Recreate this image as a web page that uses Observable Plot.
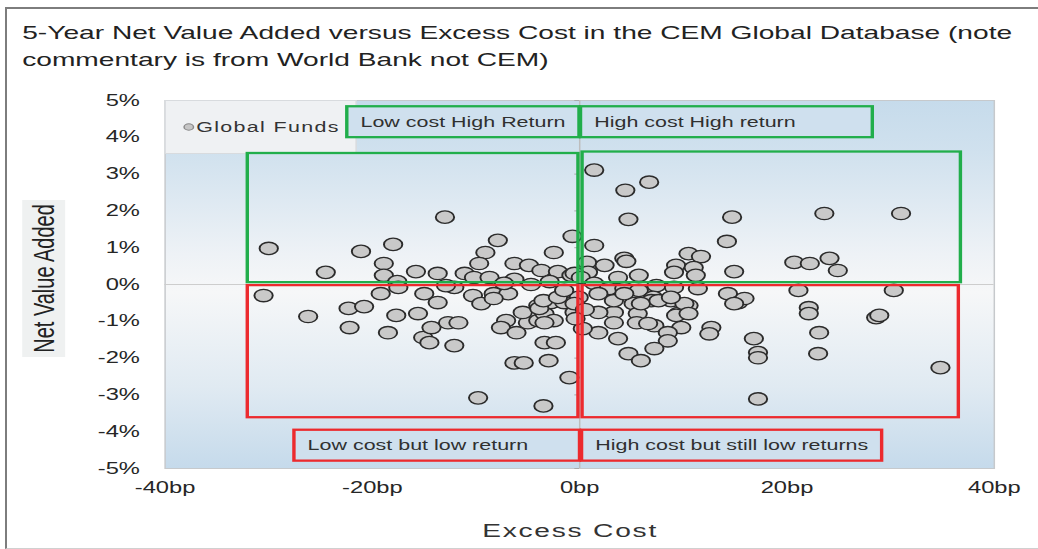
<!DOCTYPE html>
<html><head><meta charset="utf-8">
<script src="https://cdn.jsdelivr.net/npm/d3@7"></script>
<script src="https://cdn.jsdelivr.net/npm/@observablehq/plot@0.6"></script>
<style>
html,body{margin:0;padding:0;background:#fff;width:1038px;height:549px;overflow:hidden;position:relative;}
#border{position:absolute;left:5px;top:7px;width:1060px;height:539px;border-top:2px solid #7d7d7d;border-left:2px solid #7d7d7d;border-bottom:1px solid #d0d0d0;}
#title{position:absolute;left:0;top:0;width:701px;transform:scaleX(1.4807);transform-origin:0 0;font-family:"Liberation Sans",Arial,sans-serif;font-size:19px;line-height:27px;color:#222;padding:19px 0 0 15px;box-sizing:border-box;white-space:nowrap;}
#chart{position:absolute;left:0;top:85px;}
</style></head><body>
<div id="border"></div>
<div id="title">5-Year Net Value Added versus Excess Cost in the CEM Global Database (note<br>commentary is from World Bank not CEM)</div>
<div id="chart"></div>
<script>
// Global Funds: excess cost (bp) and 5-year net value added (%)
const excessCost = [
 -30.0,-24.5,-21.1,-18.0,-18.9,-18.9,-15.8,-17.6,-13.0,-7.9,-9.1,-9.7,-0.7,-2.5,-13.7,-11.1,-10.2,-8.7,-6.3,-4.9,
 -3.7,-2.1,-0.8,-6.3,-4.7,1.4,4.4,6.7,4.7,1.4,4.3,4.5,2.4,0.7,9.3,14.7,23.6,31.0,14.2,10.5,
 11.7,11.0,9.1,11.2,14.9,20.7,22.2,24.1,24.9,5.7,3.7,0.8,-0.5,0.1,1.4,7.4,9.1,11.4,2.8,4.3,
 5.7,7.1,8.8,10.5,14.3,15.3,15.9,3.3,5.2,5.6,6.9,9.5,3.3,5.5,7.2,9.8,12.7,14.9,21.1,30.3,
 10.1,9.3,10.5,22.1,22.1,28.6,28.9,8.5,8.5,12.5,16.8,17.2,17.2,23.1,23.0,34.8,17.2,1.8,3.3,4.3,
 5.9,7.6,8.8,1.8,1.8,3.7,6.6,7.2,4.7,5.9,0.3,-0.1,-18.5,-17.7,-15.6,-15.1,-14.5,-14.3,-13.7,-12.7,
 -11.7,-12.1,-15.0,-19.2,-10.3,-9.5,-8.3,-6.9,-7.1,-7.6,-6.1,-5.0,-5.5,-4.0,-3.4,-2.5,-4.0,-2.8,-1.5,-0.5,
 -3.4,-2.3,-6.3,-5.4,-3.0,-1.0,-9.8,-3.5,-30.5,-26.2,-22.3,-20.8,-22.2,-12.1,-8.3,-3.9,-3.5,-2.1,-1.5,-0.5,
 -3.4,-17.5,-12.9,-7.3,-2.9,0.5,-0.4
];
const netValueAdded = [
 0.98,0.33,0.90,1.09,0.57,0.25,0.35,0.08,1.83,1.20,0.87,0.57,1.31,0.87,0.30,0.30,0.19,0.19,0.57,0.52,
 0.38,0.35,0.25,0.14,0.00,3.11,2.56,2.78,1.77,1.06,0.71,0.63,0.52,0.60,0.52,1.83,1.93,1.93,1.17,0.84,
 0.76,0.46,0.33,0.25,0.35,0.60,0.57,0.71,0.38,0.25,0.19,0.33,0.30,0.19,0.03,-0.03,-0.08,-0.11,-0.11,-0.11,
 -0.16,-0.35,-0.44,-0.57,-0.25,-0.49,-0.38,-0.76,-0.52,-0.79,-0.44,-0.79,-1.04,-1.04,-1.12,-1.17,-1.17,-0.52,-0.16,-0.16,
 -0.52,-0.84,-0.79,-0.63,-0.79,-0.90,-0.84,-1.31,-1.53,-1.34,-1.47,-1.85,-1.99,-1.31,-1.88,-2.26,-3.11,-0.25,-0.44,-0.25,
 -0.52,-0.44,-0.35,-0.76,-1.31,-1.47,-1.06,-1.74,-1.88,-2.07,-1.20,-0.35,-1.31,-0.84,-0.79,-1.44,-1.58,-1.17,-0.49,-1.04,
 -1.04,-1.66,-0.25,-0.25,-0.30,-0.52,-0.25,-0.25,-0.98,-1.17,-1.31,-1.04,-0.76,-0.98,-0.79,-0.98,-0.57,-0.49,-0.49,-0.76,
 -1.58,-1.58,-2.13,-2.13,-2.07,-2.53,-3.08,-3.30,-0.30,-0.87,-0.65,-0.60,-1.17,-0.08,-0.38,-0.65,-0.44,-0.35,-0.16,-0.52,
 -1.04,-0.08,-0.03,0.03,0.08,-0.68,-0.93
];
const seriesName = "Global Funds";

// Axis ticks
const xTicks = [-40, -20, 0, 20, 40];
const yTicks = [5, 4, 3, 2, 1, 0, -1, -2, -3, -4, -5];

// Annotation (World Bank commentary) boxes, in data units
const quadrantLabels = ["Low cost High Return", "High cost High return", "Low cost but low return", "High cost but still low returns"];
const quadrantColor = ["#21ae4b", "#21ae4b", "#ec2a2e", "#ec2a2e"];
const quadX1 = [-32.0, 0.3, -32.0, 0.3];
const quadX2 = [-0.1, 36.8, -0.1, 36.6];
const quadY1 = [0.05, 0.05, -0.03, -0.03];
const quadY2 = [3.56, 3.60, -3.62, -3.62];
const labelX1 = [-22.4, 0.15, -27.5, 0.25];
const labelX2 = [0.0, 28.3, 0.05, 29.2];
const labelY1 = [3.99, 3.99, -4.80, -4.80];
const labelY2 = [4.83, 4.83, -3.96, -3.96];

const funds = excessCost.map((x, i) => ({x, y: netValueAdded[i]}));
const quads = quadrantLabels.map((label, i) => ({
  label, color: quadrantColor[i],
  x1: quadX1[i], x2: quadX2[i], y1: quadY1[i], y2: quadY2[i],
  lx1: labelX1[i], lx2: labelX2[i], ly1: labelY1[i], ly2: labelY2[i]
}));
const greens = quads.filter(d => d.color === quadrantColor[0]);
const reds = quads.filter(d => d.color === quadrantColor[2]);

const W = 701, H = 464;
const mL = 111, mR = 30, mT = 15, mB = 81;

const svg = Plot.plot({
  width: W, height: H,
  marginTop: mT, marginBottom: mB, marginLeft: mL, marginRight: mR,
  style: {fontFamily: "Liberation Sans, Arial, sans-serif", fontSize: "16px", color: "#262626", background: "transparent", overflow: "visible"},
  x: {domain: [-40, 40], ticks: xTicks, tickFormat: d => d + "bp", tickSize: 0, tickPadding: 13, label: null},
  y: {domain: [-5, 5], ticks: yTicks, tickFormat: d => d + "%", tickSize: 0, tickPadding: 17, label: null},
  marks: [
    Plot.frame({fill: "#e8eef4", stroke: "#c6c9cc"}),
    Plot.ruleY([0], {stroke: "#cdcdcd"}),
    Plot.ruleX([0], {stroke: "#bdbdbd"}),
    Plot.ruleY(yTicks, {x1: -0.45, x2: 0, stroke: "#a9a9a9"}),
    Plot.rect(quads, {x1: "lx1", x2: "lx2", y1: "ly1", y2: "ly2", fill: "#cfe0ee"}),
    Plot.dot(funds, {x: "x", y: "y", r: 6.2, fill: "#c9c9c9", stroke: "#2b2b2b", strokeWidth: 1.3}),
    Plot.rect(greens, {x1: "x1", x2: "x2", y1: "y1", y2: "y2", fill: "none", stroke: "#21ae4b", strokeWidth: 2.3}),
    Plot.rect(reds, {x1: "x1", x2: "x2", y1: "y1", y2: "y2", fill: "none", stroke: "#ec2a2e", strokeWidth: 2.3}),
    Plot.rect(greens, {x1: "lx1", x2: "lx2", y1: "ly1", y2: "ly2", fill: "none", stroke: "#21ae4b", strokeWidth: 2.3}),
    Plot.rect(reds, {x1: "lx1", x2: "lx2", y1: "ly1", y2: "ly2", fill: "none", stroke: "#ec2a2e", strokeWidth: 2.3}),
    Plot.text(quads, {x: d => d.lx1 + 1.25, y: d => (d.ly1 + d.ly2) / 2, text: "label", textAnchor: "start", fontSize: 14.5, fill: "#303030"})
  ]
});

const root = d3.select(svg);
// gradient background
const defs = root.insert("defs", ":first-child");
const g = defs.append("linearGradient").attr("id", "bgGrad").attr("x1", 0).attr("y1", 0).attr("x2", 0).attr("y2", 1);
[[0, "#c6dbeb"], [0.14, "#d0e1ee"], [0.42, "#eef2f6"], [0.52, "#f6f7f8"], [0.78, "#e0eaf2"], [1, "#c5daeb"]]
  .forEach(([o, c]) => g.append("stop").attr("offset", o).attr("stop-color", c));
root.selectAll('[aria-label="frame"], [aria-label="frame"] rect').attr("fill", "url(#bgGrad)");

// legend (inside plot, top-left); box sits behind the dots
const frameNode = svg.querySelector('[aria-label="frame"]');
const legBox = document.createElementNS("http://www.w3.org/2000/svg", "rect");
d3.select(legBox).attr("x", mL + 0.5).attr("y", mT + 0.5).attr("width", 129).attr("height", 53)
  .attr("fill", "#eff1f3").attr("stroke", "#d8dbde");
frameNode.parentNode.insertBefore(legBox, frameNode.nextSibling);
const leg = root.append("g").attr("aria-label", "legend").attr("text-anchor", "start");
leg.append("circle").attr("cx", mL + 16.5).attr("cy", mT + 27).attr("r", 3.2).attr("fill", "#c6c6c6").attr("stroke", "#8a8a8a").attr("stroke-width", 1);
leg.append("text").attr("x", mL + 21.5).attr("y", mT + 27).attr("dy", "0.35em").attr("font-size", 14.5).attr("letter-spacing", 0.9)
  .attr("fill", "#333").text(seriesName);

// axis titles
const yl = root.append("g").attr("aria-label", "y-axis label");
yl.append("rect").attr("x", 15).attr("y", 115).attr("width", 29).attr("height", 157).attr("fill", "#eff1f1");
yl.append("text").attr("transform", `translate(29.5,${(115 + 272) / 2}) rotate(-90)`).attr("text-anchor", "middle").attr("dy", "0.35em")
  .attr("font-size", 20).attr("fill", "#222").text("Net Value Added");
root.append("text").attr("x", 385).attr("y", 445).attr("text-anchor", "middle").attr("dy", "0.35em")
  .attr("font-size", 19).attr("letter-spacing", 1.2).attr("fill", "#333").text("Excess Cost");

// stretch horizontally like the reference picture
svg.setAttribute("viewBox", `0 0 ${W} ${H}`);
svg.setAttribute("preserveAspectRatio", "none");
svg.setAttribute("width", 1038);
svg.setAttribute("height", H);
svg.style.width = "1038px";
svg.style.height = H + "px";
svg.style.maxWidth = "none";
document.getElementById("chart").appendChild(svg);
</script>
</body></html>
